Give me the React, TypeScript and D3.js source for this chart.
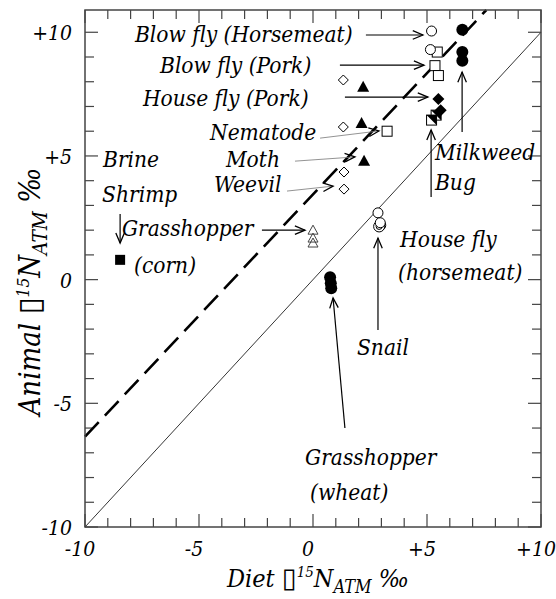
import React from "react";
import * as d3 from "d3";

// diet vs animal d15N (per mil)
const blowFlyHorsemeat = [
  { x: 5.2, y: 10.05 },
  { x: 5.15, y: 9.3 },
];
const blowFlyPork = [
  { x: 5.45, y: 9.2 },
  { x: 5.35, y: 8.65 },
  { x: 5.5, y: 8.25 },
];
const houseFlyPork = [
  { x: 5.5, y: 7.3 },
  { x: 5.6, y: 6.85 },
];
const milkweedSquares = [
  { x: 5.4, y: 6.65 },
  { x: 5.2, y: 6.45 },
];
const milkweedCircles = [
  { x: 6.55, y: 10.1 },
  { x: 6.55, y: 9.2 },
  { x: 6.55, y: 8.85 },
];
const filledTriangles = [
  { x: 2.2, y: 7.8 },
  { x: 2.13, y: 6.33 },
  { x: 2.24, y: 4.81 },
];
const openDiamonds = [
  { x: 1.33, y: 8.07 },
  { x: 1.33, y: 6.17 },
  { x: 1.36, y: 4.35 },
  { x: 1.36, y: 3.66 },
];
const nematode = [{ x: 3.25, y: 6.0 }];
const grasshopperCorn = [
  { x: 0.0, y: 2.0 },
  { x: 0.0, y: 1.68 },
  { x: 0.0, y: 1.48 },
];
const brineShrimp = [{ x: -8.46, y: 0.8 }];
const houseFlyHorsemeat = [
  { x: 2.85, y: 2.7 },
  { x: 2.95, y: 2.3 },
];
const snail = [
  { x: 2.95, y: 2.2 },
  { x: 2.9, y: 2.15 },
];
const grasshopperWheat = [
  { x: 0.75, y: 0.1 },
  { x: 0.78, y: -0.15 },
  { x: 0.8, y: -0.35 },
];

const tickValues = d3.range(-10, 11, 1);
const tickLabels = ["-10", "-5", "0", "+5", "+10"];
const labelTicks = [-10, -5, 0, 5, 10];

// fitted trophic line (dashed) and 1:1 line
const dashSlope = 0.98;
const dashIntercept = 3.45;

const labels = [
  { text: "Blow fly (Horsemeat)", x: -7.81, y: 9.6 },
  { text: "Blow fly (Pork)", x: -6.71, y: 8.35 },
  { text: "House fly (Pork)", x: -7.46, y: 7.02 },
  { text: "Nematode", x: -4.52, y: 5.64 },
  { text: "Moth", x: -3.82, y: 4.55 },
  { text: "Weevil", x: -4.34, y: 3.54 },
  { text: "Brine", x: -9.21, y: 4.55 },
  { text: "Shrimp", x: -9.25, y: 3.14 },
  { text: "Grasshopper", x: -8.38, y: 1.76 },
  { text: "(corn)", x: -7.85, y: 0.27 },
  { text: "Milkweed", x: 5.35, y: 4.83 },
  { text: "Bug", x: 5.35, y: 3.62 },
  { text: "House fly", x: 3.82, y: 1.32 },
  { text: "(horsemeat)", x: 3.73, y: -0.02 },
  { text: "Snail", x: 1.93, y: -3.05 },
  { text: "Grasshopper", x: -0.35, y: -7.49 },
  { text: "(wheat)", x: -0.13, y: -8.91 },
];

const arrows = [
  { x1: 2.32, y1: 9.89, x2: 4.82, y2: 9.89, thin: false },
  { x1: 1.18, y1: 8.67, x2: 4.87, y2: 8.67, thin: false },
  { x1: 1.4, y1: 7.38, x2: 5.04, y2: 7.38, thin: false },
  { x1: 0.31, y1: 5.72, x2: 2.89, y2: 6.01, thin: true },
  { x1: -0.79, y1: 4.79, x2: 1.84, y2: 4.96, thin: true },
  { x1: -1.14, y1: 3.58, x2: 0.88, y2: 3.78, thin: true },
  { x1: -2.24, y1: 2.0, x2: -0.35, y2: 2.0, thin: false },
  { x1: -8.46, y1: 2.65, x2: -8.46, y2: 1.48, thin: false },
  { x1: 5.18, y1: 3.34, x2: 5.18, y2: 6.05, thin: false },
  { x1: 6.54, y1: 5.97, x2: 6.54, y2: 8.39, thin: false },
  { x1: 2.85, y1: -2.04, x2: 2.85, y2: 1.68, thin: false },
  { x1: 1.4, y1: -6.0, x2: 0.88, y2: -0.74, thin: false },
];

const width = 556;
const height = 599;
const left = 85,
  right = 541,
  top = 10,
  bottom = 527;

const font = "'DejaVu Serif Condensed', 'DejaVu Serif', serif";

function Marker({ shape, cx, cy }: { shape: string; cx: number; cy: number }) {
  const s = 5;
  switch (shape) {
    case "circleOpen":
      return <circle cx={cx} cy={cy} r={5} fill="white" stroke="#000" strokeWidth={1} />;
    case "circleDouble":
      return (
        <g>
          <circle cx={cx} cy={cy} r={5.5} fill="white" stroke="#000" strokeWidth={1} />
          <circle cx={cx} cy={cy} r={3} fill="none" stroke="#000" strokeWidth={1} />
        </g>
      );
    case "circleFilled":
      return <circle cx={cx} cy={cy} r={6} fill="#000" />;
    case "squareOpen":
      return <rect x={cx - s} y={cy - s} width={2 * s} height={2 * s} fill="white" stroke="#000" strokeWidth={1} />;
    case "squareFilled":
      return <rect x={cx - s} y={cy - s} width={2 * s} height={2 * s} fill="#000" />;
    case "squareHalf":
      return (
        <g>
          <rect x={cx - s} y={cy - s} width={2 * s} height={2 * s} fill="white" stroke="#000" strokeWidth={1} />
          <path d={`M${cx - s},${cy - s}L${cx + s},${cy - s}L${cx + s},${cy + s}Z`} fill="#000" />
        </g>
      );
    case "diamondOpen":
      return (
        <path
          d={`M${cx},${cy - s}L${cx + s},${cy}L${cx},${cy + s}L${cx - s},${cy}Z`}
          fill="white"
          stroke="#000"
          strokeWidth={1}
        />
      );
    case "diamondFilled":
      return <path d={`M${cx},${cy - 6}L${cx + 6},${cy}L${cx},${cy + 6}L${cx - 6},${cy}Z`} fill="#000" />;
    case "triangleFilled":
      return <path d={`M${cx},${cy - 6}L${cx + 6},${cy + 5}L${cx - 6},${cy + 5}Z`} fill="#000" />;
    case "triangleOpen":
      return (
        <path
          d={`M${cx},${cy - 5}L${cx + 5},${cy + 4}L${cx - 5},${cy + 4}Z`}
          fill="none"
          stroke="#444"
          strokeWidth={1}
        />
      );
    default:
      return null;
  }
}

export default function App() {
  const x = d3.scaleLinear().domain([-10, 10]).range([left, right]);
  const y = d3.scaleLinear().domain([-10, 10.9]).range([bottom, top]);

  const series: { data: { x: number; y: number }[]; shape: string }[] = [
    { data: grasshopperCorn, shape: "triangleOpen" },
    { data: openDiamonds, shape: "diamondOpen" },
    { data: filledTriangles, shape: "triangleFilled" },
    { data: nematode, shape: "squareOpen" },
    { data: blowFlyPork, shape: "squareOpen" },
    { data: blowFlyHorsemeat, shape: "circleOpen" },
    { data: milkweedSquares, shape: "squareHalf" },
    { data: houseFlyPork, shape: "diamondFilled" },
    { data: milkweedCircles, shape: "circleFilled" },
    { data: brineShrimp, shape: "squareFilled" },
    { data: snail, shape: "circleDouble" },
    { data: houseFlyHorsemeat, shape: "circleOpen" },
    { data: grasshopperWheat, shape: "circleFilled" },
  ];

  const dashEndX = (10.9 - dashIntercept) / dashSlope;
  const dashPath = d3.line<number>()
    .x((d) => x(d))
    .y((d) => y(dashSlope * d + dashIntercept))([-10, dashEndX]);
  const onePath = d3.line<number>()
    .x((d) => x(d))
    .y((d) => y(d))([-10, 10]);

  const arrowHead = (a: (typeof arrows)[number]) => {
    const px1 = x(a.x1), py1 = y(a.y1), px2 = x(a.x2), py2 = y(a.y2);
    const ang = Math.atan2(py2 - py1, px2 - px1);
    const len = 11, spread = 0.4;
    const p1 = [px2 - len * Math.cos(ang - spread), py2 - len * Math.sin(ang - spread)];
    const p2 = [px2 - len * Math.cos(ang + spread), py2 - len * Math.sin(ang + spread)];
    return `M${p1[0]},${p1[1]}L${px2},${py2}L${p2[0]},${p2[1]}`;
  };

  const title = (name: string, k: number) => (
    <>
      <tspan>{name} </tspan>
      <tspan fontFamily="'DejaVu Sans'" fontStyle="normal" fontSize={27 * k}>▯</tspan>
      <tspan fontSize={15 * k} dy={-10 * k}>15</tspan>
      <tspan dy={10 * k}>N</tspan>
      <tspan fontSize={18 * k} dy={6 * k}>ATM</tspan>
      <tspan dy={-6 * k}> ‰</tspan>
    </>
  );

  return (
    <svg
      width={width}
      height={height}
      style={{ position: "absolute", left: 0, top: 0, background: "white" }}
    >
      <rect x={0} y={0} width={width} height={height} fill="white" />
      {/* ticks */}
      {tickValues.map((t) => {
        const len = t % 5 === 0 ? 13 : 9;
        return (
          <g key={t} stroke="#444" strokeWidth={1.2}>
            <line x1={x(t)} x2={x(t)} y1={bottom} y2={bottom - len} />
            <line x1={x(t)} x2={x(t)} y1={top} y2={top + len} />
            <line x1={left} x2={left + len} y1={y(t)} y2={y(t)} />
            <line x1={right} x2={right - len} y1={y(t)} y2={y(t)} />
          </g>
        );
      })}
      {/* reference lines */}
      <path d={onePath!} stroke="#000" strokeWidth={0.8} fill="none" />
      <path d={dashPath!} stroke="#000" strokeWidth={2.6} strokeDasharray="20,9" fill="none" />
      {/* frame */}
      <rect x={left} y={top} width={right - left} height={bottom - top} fill="none" stroke="#444" strokeWidth={1.5} />

      {/* arrows */}
      {arrows.map((a, i) => (
        <g key={i}>
          <line
            x1={x(a.x1)}
            y1={y(a.y1)}
            x2={x(a.x2)}
            y2={y(a.y2)}
            stroke={a.thin ? "#777" : "#000"}
            strokeWidth={a.thin ? 0.8 : 1.2}
          />
          <path d={arrowHead(a)} fill="none" stroke="#000" strokeWidth={1.3} />
        </g>
      ))}

      {/* points */}
      {series.map((s, i) => (
        <g key={i}>
          {s.data.map((d, j) => (
            <Marker key={j} shape={s.shape} cx={x(d.x)} cy={y(d.y)} />
          ))}
        </g>
      ))}

      {/* annotations */}
      <g fontFamily={font} fontStyle="italic" fontSize={22.5} fill="#000">
        {labels.map((l, i) => (
          <text key={i} x={x(l.x)} y={y(l.y)}>
            {l.text}
          </text>
        ))}
      </g>

      {/* tick labels */}
      <g fontFamily={font} fontStyle="italic" fontSize={21} fill="#000">
        {labelTicks.map((t, i) => (
          <text key={"x" + t} x={x(t) - 5} y={bottom + 29} textAnchor="middle">
            {tickLabels[i]}
          </text>
        ))}
        {labelTicks.map((t, i) => (
          <text key={"y" + t} x={left - 13} y={y(t) + 8} textAnchor="end">
            {tickLabels[i]}
          </text>
        ))}
      </g>

      {/* axis titles */}
      <text x={x(0) + 5} y={587} textAnchor="middle" fontFamily={font} fontStyle="italic" fontSize={25}>
        {title("Diet", 1)}
      </text>
      <text
        transform={`translate(40, ${y(0) + 12}) rotate(-90)`}
        textAnchor="middle"
        fontFamily={font}
        fontStyle="italic"
        fontSize={29}
      >
        {title("Animal", 1.15)}
      </text>
    </svg>
  );
}
